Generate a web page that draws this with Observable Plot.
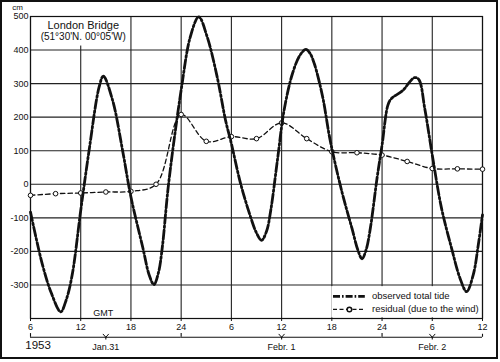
<!DOCTYPE html>
<html><head><meta charset="utf-8">
<script src="https://cdn.jsdelivr.net/npm/d3@7"></script>
<script src="https://cdn.jsdelivr.net/npm/@observablehq/plot@0.6"></script>
<style>
html,body{margin:0;padding:0;background:#fff}
#wrap{position:relative;width:500px;height:362px}
#chart svg{display:block}
#border{position:absolute;left:0;top:0;width:498px;height:359px;border:2px solid #111;box-sizing:border-box;pointer-events:none}
</style></head><body><div id="wrap"><div id="chart"></div><div id="border"></div></div>
<script>
// hours counted from Jan 31 1953, 00h GMT
const tideHours = [6,7.4,8.5,9.6,10.3,11,12,13,14.2,14.7,15.8,17,18,19.4,20.2,20.75,21.3,21.75,22.5,24,25.1,26.1,27.1,28.3,29.3,30,31.1,32.3,33,33.6,34.2,34.7,35.5,36.3,37.3,38.2,38.9,39.4,39.9,40.9,41.8,43.2,44.4,45.1,45.6,46.1,46.6,47.4,48,48.7,49.1,50.5,51.3,51.9,52.4,53.1,54,55.1,56.3,57.3,58.1,58.9,59.5,60];
const tideCm    = [-83,-237,-325,-380,-342,-267,-78,101,290,322,251,101,-38,-187,-272,-299,-262,-187,2,281,440,499,440,320,191,121,2,-98,-145,-167,-140,-78,72,221,330,385,402,390,360,261,131,-22,-131,-195,-222,-195,-131,18,117,236,255,280,305,318,312,226,87,-71,-190,-279,-320,-269,-180,-91];
const residualHours = [6,9,12,15,18,21,24,27,30,33,36,39,42,45,48,51,54,57,60];
const residualCm    = [-33,-28,-26,-23,-21,0,208,128,142,136,183,136,97,94,87,68,47,46,45];
const hourTicks = [6,12,18,24,30,36,42,48,54,60];
const hourTickLabels = ["6","12","18","24","6","12","18","24","6","12"];
const cmTicks = [-300,-200,-100,0,100,200,300,400,500];
const cmGrid = [-400,-300,-200,-100,0,100,200,300,400,500];
const dayLabels = ["Jan.31","Febr. 1","Febr. 2"];
const dayStart = [6,24,48];
const dayEnd = [24,48,60];
const legendLabels = ["observed total tide","residual (due to the wind)"];
const titleLines = ["London Bridge","(51°30'N. 00°05'W)"];
const yearLabel = "1953";
const unitLabel = "cm";
const timeLabel = "GMT";

const tide = tideHours.map((h,i)=>({h, v: tideCm[i]}));
const resid = residualHours.map((h,i)=>({h, v: residualCm[i]}));
const days = dayLabels.map((d,i)=>({label:d, a:dayStart[i], b:dayEnd[i], c:(dayStart[i]+dayEnd[i])/2}));
const tickLabelMap = new Map(hourTicks.map((t,i)=>[t, hourTickLabels[i]]));

const FONT = "Liberation Sans, Arial, sans-serif";
const ink = "#111";
const tideDash = "9,2.4,1.8,2.4";

// legend geometry in data units
const lgX1 = 42.2, lgX2 = 46.0, lgTx = 46.8;
const lgY = [-334, -373];

const chart = Plot.plot({
  width: 500, height: 362,
  marginLeft: 30, marginRight: 18, marginTop: 16, marginBottom: 44,
  style: {fontFamily: FONT, fontSize: "9px", color: ink, background: "transparent", overflow: "visible"},
  x: {domain: [6, 60]},
  y: {domain: [-400, 500]},
  marks: [
    Plot.gridY(cmGrid, {stroke: "#222", strokeOpacity: 1, strokeWidth: 1.1}),
    Plot.gridX(hourTicks, {stroke: "#222", strokeOpacity: 1, strokeWidth: 1.1}),
    // white boxes behind title and legend
    Plot.rect([0], {x1: 7.2, x2: 17.4, y1: 412, y2: 498, fill: "white"}),
    Plot.rect([0], {x1: 42.0, x2: 59.85, y1: -305, y2: -398, fill: "white"}),
    Plot.frame({stroke: ink, strokeWidth: 1.2}),
    Plot.axisY(cmTicks, {tickSize: 0, tickPadding: 2, label: null, tickFormat: d => String(d), fontSize: 9, fill: ink}),
    Plot.axisX(hourTicks, {tickSize: 3, tickPadding: 2, label: null, tickFormat: d => tickLabelMap.get(d), fontSize: 9, fill: ink, stroke: ink}),
    // residual
    Plot.line(resid, {x: "h", y: "v", curve: "catmull-rom", stroke: ink, strokeWidth: 1.3, strokeDasharray: "4.5,3"}),
    Plot.dot(resid, {x: "h", y: "v", r: 2.3, fill: "white", stroke: ink, strokeWidth: 1}),
    // observed tide
    Plot.line(tide, {x: "h", y: "v", curve: "catmull-rom", stroke: ink, strokeWidth: 2.8, strokeDasharray: tideDash}),
    // title
    Plot.text(titleLines, {x: 12.3, y: (d,i) => [472, 441][i], text: d => d, fontSize: (d,i)=> i===0 ? 11 : 10, fill: ink}),
    Plot.text([unitLabel], {x: 4.45, y: 527, text: d => d, fontSize: 8, fill: ink}),
    Plot.text([timeLabel], {x: 14.7, y: -384, text: d => d, fontSize: 9, fill: ink, letterSpacing: "1px"}),
    // legend
    Plot.ruleY([lgY[0]], {x1: lgX1, x2: lgX2, stroke: ink, strokeWidth: 2.6, strokeDasharray: "7,2,1.6,2"}),
    Plot.ruleY([lgY[1]], {x1: lgX1, x2: lgX2, stroke: ink, strokeWidth: 1.3, strokeDasharray: "4,2.5"}),
    Plot.dot([lgY[1]], {x: (lgX1+lgX2)/2, y: d => d, r: 2.3, fill: "white", stroke: ink}),
    Plot.text(legendLabels, {x: lgTx, y: (d,i) => lgY[i], text: d => d, textAnchor: "start", fontSize: 9.5, fill: ink}),
    // day brackets
    Plot.ruleY(days, {x1: "a", x2: "b", y: -456, stroke: ink, strokeWidth: 1.1}),
    Plot.ruleX(days, {x: "a", y1: -456, y2: -445, stroke: ink, strokeWidth: 1.1}),
    Plot.ruleX([60], {x: d => d, y1: -456, y2: -447, stroke: ink, strokeWidth: 1.1}),
    Plot.ruleX(days, {x: "c", y1: -456, y2: -464, stroke: ink, strokeWidth: 1.1}),
    Plot.link(days, {x1: d => d.c - 0.35, x2: "c", y1: -446, y2: -456, stroke: ink, strokeWidth: 1}),
    Plot.link(days, {x1: d => d.c + 0.35, x2: "c", y1: -446, y2: -456, stroke: ink, strokeWidth: 1}),
    Plot.text(days, {x: "c", y: -484, text: "label", fontSize: 9, fill: ink}),
    Plot.text([yearLabel], {x: 6.9, y: -481, text: d => d, fontSize: 11.5, fill: ink})
  ]
});
document.getElementById("chart").appendChild(chart);
</script></body></html>
